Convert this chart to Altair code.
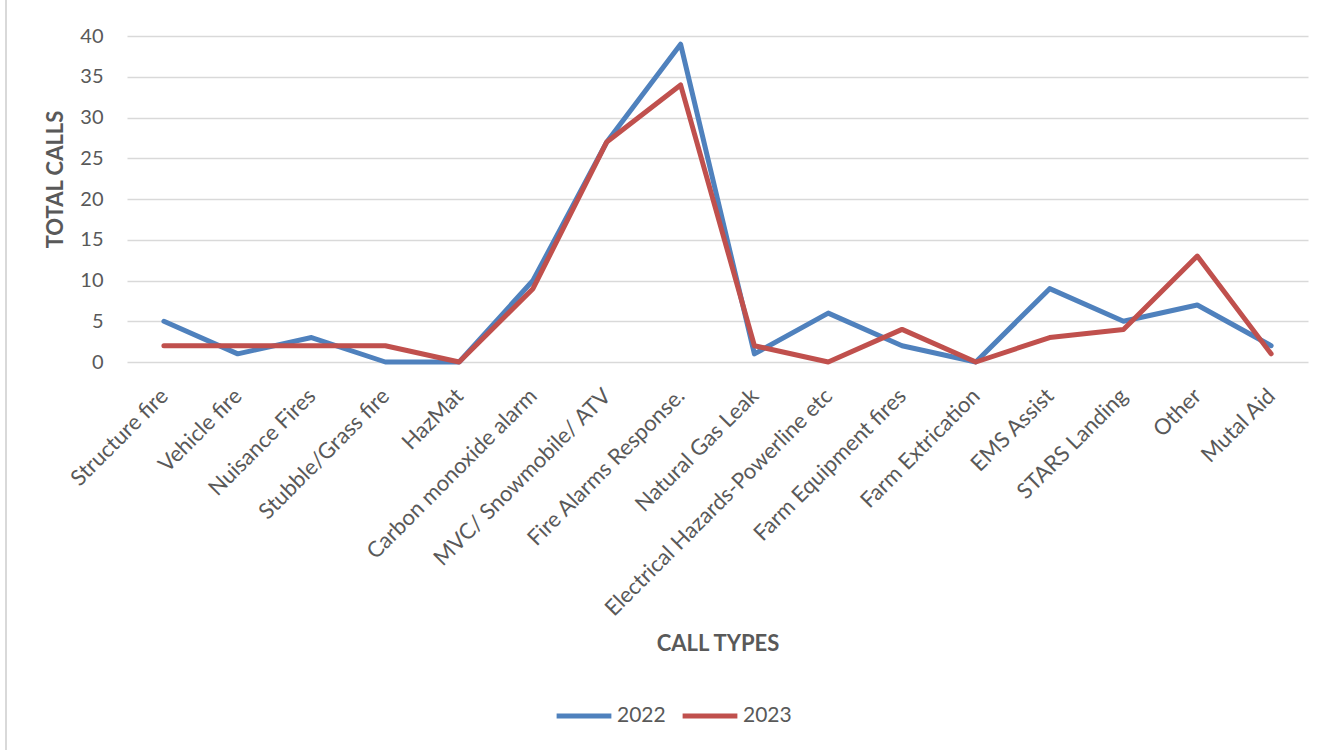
import altair as alt
import pandas as pd

categories = ["Structure fire", "Vehicle fire", "Nuisance Fires", "Stubble/Grass fire", "HazMat",
              "Carbon monoxide  alarm", "MVC/ Snowmobile/ ATV", "Fire Alarms Response.",
              "Natural Gas Leak", "Electrical Hazards-Powerline etc", "Farm Equipment fires",
              "Farm Extrication", "EMS Assist", "STARS Landing", "Other", "Mutal Aid"]
calls_2022 = [5, 1, 3, 0, 0, 10, 27, 39, 1, 6, 2, 0, 9, 5, 7, 2]
calls_2023 = [2, 2, 2, 2, 0, 9, 27, 34, 2, 0, 4, 0, 3, 4, 13, 1]
series = ["2022", "2023"]
colors = ["#4F81BD", "#C0504D"]

rows = []
for i, c in enumerate(categories):
    rows.append({"type": c, "year": "2022", "calls": calls_2022[i], "order": i})
    rows.append({"type": c, "year": "2023", "calls": calls_2023[i], "order": i})
df = pd.DataFrame(rows)

FONT = "Lato"
GREY = "#595959"

lines = alt.Chart(df).mark_line(strokeWidth=5, strokeCap="round", strokeJoin="round").encode(
    x=alt.X("type:N", sort=categories, scale=alt.Scale(paddingInner=0, paddingOuter=0.5),
            axis=alt.Axis(title="CALL TYPES", labelAngle=-45, labelAlign="right", labelBaseline="middle",
                          labelFontSize=22, labelColor=GREY, labelFont=FONT, labelPadding=30,
                          ticks=False, domain=False, grid=False, labelLimit=400,
                          titleFont=FONT, titleFontSize=22, titleFontWeight="bold", titleColor=GREY,
                          titleY=281, titleBaseline="middle")),
    y=alt.Y("calls:Q", scale=alt.Scale(domain=[0, 40], nice=False),
            axis=alt.Axis(title="TOTAL CALLS", values=list(range(0, 41, 5)), labelFontSize=20,
                          labelColor=GREY, labelFont=FONT, labelPadding=24, ticks=False, domain=False,
                          gridColor="#D9D9D9", gridWidth=1.5,
                          titleFont=FONT, titleFontSize=22, titleFontWeight="bold", titleColor=GREY,
                          titleX=-72, titleY=143, titleAngle=-90, titleBaseline="middle")),
    color=alt.Color("year:N", scale=alt.Scale(domain=series, range=colors),
                    legend=alt.Legend(title=None, orient="none", direction="horizontal",
                                      legendX=427, legendY=650, symbolType="stroke",
                                      symbolStrokeWidth=5, symbolSize=3000, labelFontSize=21,
                                      labelFont=FONT, labelColor=GREY, columnPadding=6,
                                      labelOffset=3)),
    order="order:Q",
)

border = alt.Chart(df).mark_rule(color="#D9D9D9", strokeWidth=1.5).encode(
    x=alt.value(-121), y=alt.value(-36), y2=alt.value(714)
)

chart = alt.layer(border, lines).properties(
    width=1181, height=326,
    padding={"left": 127, "top": 36, "right": 26, "bottom": 388},
    autosize=alt.AutoSizeParams(type="none"),
    background="white",
).configure_view(stroke="transparent")

chart.save("out.html", embed_options={"renderer": "svg", "actions": False})
